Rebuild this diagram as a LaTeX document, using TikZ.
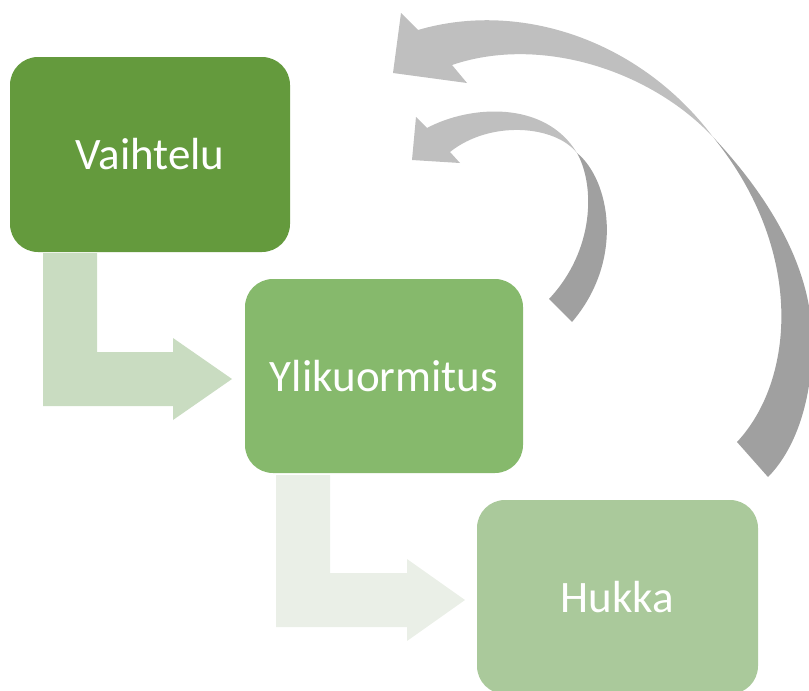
\documentclass[tikz,border=0pt]{standalone}
\usepackage{fontspec}
\setmainfont{Carlito}
\begin{document}
\begin{tikzpicture}[x=1pt,y=-1pt,
  box/.style={rectangle, rounded corners=28pt, draw=none, inner sep=0pt, text=white,
    font=\fontsize{45}{52}\selectfont},
  lightgray/.style={fill=cLight, draw=none},
  darkgray/.style={fill=cDark, draw=none}]
\definecolor{g1}{HTML}{649A3D}
\definecolor{g2}{HTML}{86B96C}
\definecolor{g3}{HTML}{AAC99B}
\definecolor{a1}{HTML}{C9DCC1}
\definecolor{a2}{HTML}{EAEFE7}
\definecolor{cLight}{HTML}{BFBFBF}
\definecolor{cDark}{HTML}{A0A0A0}
\useasboundingbox (0,0) rectangle (809,691);
\begin{scope}
\clip (0,0) rectangle (809,691);
% bent arrows
\fill[a1] (43,253) -- (97,253) -- (97,352) -- (173,352) -- (173,338) -- (232,379)
  -- (173,420) -- (173,406) -- (43,406) -- cycle;
\fill[a2] (276,475) -- (330,475) -- (330,573) -- (407,573) -- (407,559) -- (465,600)
  -- (407,641) -- (407,627) -- (276,627) -- cycle;
% boxes
\node[box, fill=g1, minimum width=280pt, minimum height=195pt] (v) at (150,154.5) {Vaihtelu};
\node[box, fill=g2, minimum width=278pt, minimum height=194pt] (y) at (384,376) {Ylikuormitus};
\node[box, fill=g3, minimum width=281pt, minimum height=194pt] (h) at (617.5,597) {Hukka};
% big curved arrow
\path[lightgray] (452,65) -- (467,83) -- (393,73) -- (401,13) -- (418,30)
  .. controls (520,0) and (640,40) .. (713,137)
  .. controls (650,70) and (540,35) .. (452,65) -- cycle;
\path[darkgray] (713,137) .. controls (772,200) and (812,270) .. (812,340)
  .. controls (813,400) and (795,450) .. (768,477)
  -- (737,442) .. controls (795,380) and (805,250) .. (713,137) -- cycle;
% small curved arrow
\path[lightgray] (450,152) -- (460,163) -- (412,160) -- (416,117) -- (427,128)
  .. controls (470,105) and (545,100) .. (577,153)
  .. controls (555,125) and (490,120) .. (450,152) -- cycle;
\path[darkgray] (577,153) .. controls (610,180) and (625,260) .. (572,322)
  -- (549,299) .. controls (595,250) and (595,185) .. (577,153) -- cycle;
\end{scope}
\end{tikzpicture}
\end{document}
